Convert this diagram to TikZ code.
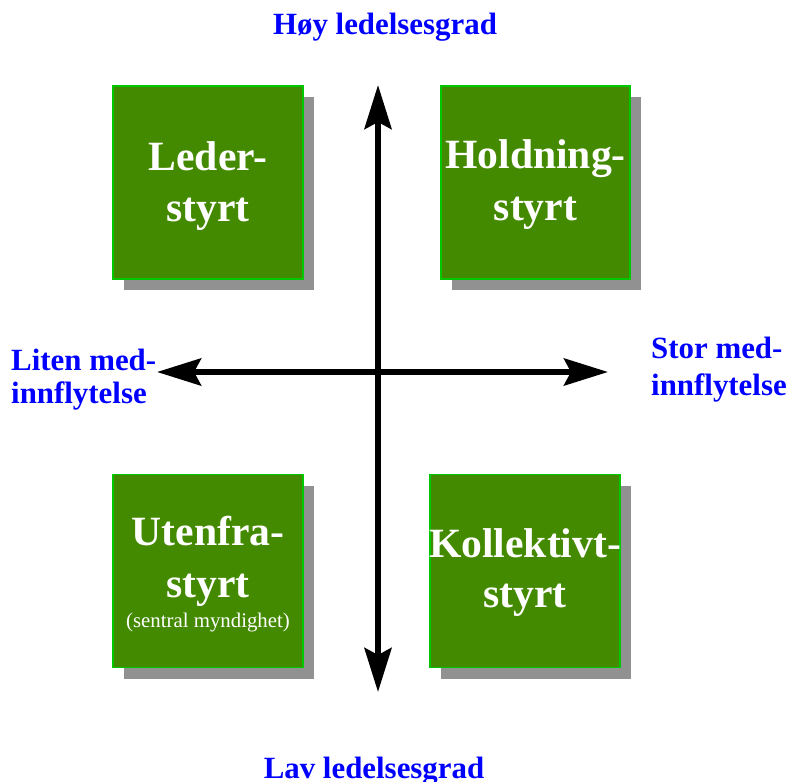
\documentclass[tikz,border=0pt]{standalone}
\usepackage{fontspec}
\setmainfont{Liberation Serif}
\usetikzlibrary{arrows.meta,shadows}
\definecolor{boxgreen}{RGB}{68,138,0}
\definecolor{edgegreen}{RGB}{0,200,0}
\definecolor{shadowgray}{RGB}{145,145,145}
\definecolor{labelblue}{RGB}{0,0,255}
\tikzset{
  quad/.style={draw=edgegreen, line width=1.2bp, fill=boxgreen, minimum width=190bp, minimum height=193bp, inner sep=0pt,
    drop shadow={shadow xshift=11bp, shadow yshift=-11bp, fill=shadowgray, opacity=1}},
  boxtext/.style={anchor=base, text=white, inner sep=0pt, font=\fontsize{41.8}{48}\selectfont\bfseries},
  smalltext/.style={anchor=base, text=white, inner sep=0pt, font=\fontsize{20.9}{24}\selectfont},
  axislabel/.style={inner sep=0pt, text=labelblue, font=\fontsize{31}{36}\selectfont\bfseries},
  axis/.style={line width=6bp, -{Stealth[length=44bp,width=27bp,inset=7bp]}},
}
\begin{document}
\begin{tikzpicture}[x=1bp,y=-1bp]
\useasboundingbox (0,0) rectangle (792,782);
% boxes
\node[quad] (leder) at (208,182.5) {};
\node[quad, minimum width=189bp] (holdning) at (535.5,182.5) {};
\node[quad] (utenfra) at (208,571) {};
\node[quad] (kollektivt) at (525,571) {};
% box texts
\node[boxtext] (t1a) at (208,170) {Leder-};
\node[boxtext] (t1b) at (208,221) {styrt};
\node[boxtext] (t2a) at (535.5,168) {Holdning-};
\node[boxtext] (t2b) at (535.5,220) {styrt};
\node[boxtext] (t3a) at (208,545) {Utenfra-};
\node[boxtext] (t3b) at (208,597) {styrt};
\node[smalltext] (t3c) at (208,627) {(sentral myndighet)};
\node[boxtext] (t4a) at (525,557) {Kollektivt-};
\node[boxtext] (t4b) at (525,607) {styrt};
% axes
\coordinate (top) at (378,85);
\coordinate (bottom) at (378,692);
\coordinate (left) at (157,372);
\coordinate (right) at (608,372);
\coordinate (mid) at (378,372);
\draw[axis] (mid) -- (top);
\draw[axis] (mid) -- (bottom);
\draw[axis] (mid) -- (left);
\draw[axis] (mid) -- (right);
% axis labels
\node[axislabel, anchor=base] (hoy) at (385,35) {Høy ledelsesgrad};
\node[axislabel, anchor=base] (lav) at (374,778) {Lav ledelsesgrad};
\node[axislabel, anchor=base west] (liten1) at (11,370) {Liten med-};
\node[axislabel, anchor=base west] (liten2) at (11,403) {innflytelse};
\node[axislabel, anchor=base west] (stor1) at (651,358) {Stor med-};
\node[axislabel, anchor=base west] (stor2) at (651,395) {innflytelse};
\end{tikzpicture}
\end{document}
